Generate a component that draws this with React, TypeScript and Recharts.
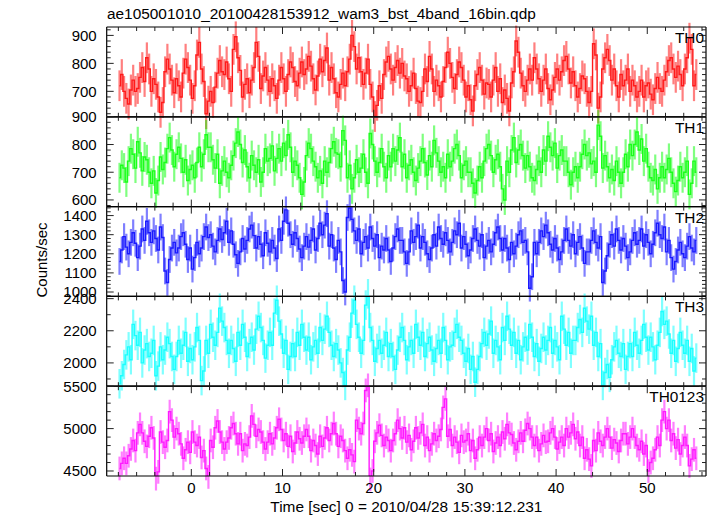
import React from 'react';
import { ComposedChart, Line, XAxis, YAxis, ErrorBar } from 'recharts';

const W = 717;
const H = 516;
const FONT = '"Liberation Sans", Arial, Helvetica, sans-serif';

// light curve binning (0.25 s bins)
const T_FIRST = -7.875;
const T_BIN = 0.25;

const TH0 = [
  720,760,700,675,655,705,740,700,710,750,785,735,820,780,700,745,725,680,625,660,
  770,815,780,740,695,745,720,680,765,815,785,740,675,720,830,875,780,735,620,665,
  700,660,715,765,810,770,760,805,745,700,850,895,820,775,680,725,745,695,740,785,
  875,825,710,755,785,740,700,745,720,675,740,785,745,700,760,805,785,735,720,765,
  805,760,780,825,790,745,705,755,815,770,810,855,740,785,745,695,680,725,765,720,
  770,815,900,860,780,820,770,725,765,815,725,680,610,650,720,675,760,805,825,780,
  740,785,810,765,800,755,745,700,720,765,710,665,660,700,780,735,825,780,700,740,
  720,680,735,785,840,800,750,710,760,805,785,740,680,720,670,630,720,760,785,740,
  690,730,725,680,740,785,700,745,660,705,675,630,730,770,880,840,765,720,700,740,
  780,740,820,780,745,700,740,780,710,670,705,750,780,740,770,810,825,780,730,770,
  720,680,710,755,745,700,660,700,870,830,640,680,780,820,850,810,740,780,720,680,
  760,720,740,780,700,740,720,680,700,740,680,720,730,690,670,710,750,710,700,740,
  770,810,820,780,750,790,760,720,780,820,890,850,720,760,
];

const TH1 = [
  680,725,715,665,740,785,765,715,810,770,705,755,745,700,660,705,625,670,755,710,
  735,785,825,780,720,765,790,750,700,745,670,710,725,680,735,790,720,765,835,790,
  790,745,715,765,660,705,740,700,680,725,760,805,845,800,735,780,720,680,760,725,
  700,745,665,700,785,740,750,795,705,750,785,740,805,760,835,790,700,740,725,680,
  620,665,760,805,785,740,720,680,705,660,740,700,735,785,810,770,765,720,850,815,
  680,725,640,680,745,700,715,765,700,660,840,800,740,700,735,785,720,680,760,720,
  785,740,780,825,720,765,680,725,745,700,670,715,740,785,735,690,760,720,815,770,
  740,700,720,680,765,720,740,785,800,760,680,725,740,700,700,660,625,670,720,680,
  740,785,800,760,700,745,765,720,640,600,740,700,780,825,735,780,800,760,715,760,
  720,680,670,710,740,700,780,740,830,790,760,805,715,760,780,740,740,700,655,700,
  720,680,720,765,800,760,770,730,740,700,870,830,715,760,720,680,710,670,740,700,
  660,700,765,720,800,760,800,845,780,820,740,785,720,680,670,710,640,680,720,680,
  710,750,700,660,630,670,720,680,700,740,620,660,740,700,
];

const TH2 = [
  1160,1220,1290,1235,1200,1260,1310,1255,1180,1240,1330,1270,1370,1310,1260,1320,1280,1220,1340,1285,
  1110,1050,1170,1230,1260,1205,1230,1290,1310,1250,1170,1230,1120,1180,1260,1200,1230,1290,1340,1285,
  1300,1240,1210,1270,1330,1275,1310,1370,1260,1320,1250,1195,1150,1210,1280,1225,1270,1330,1350,1295,
  1230,1290,1250,1190,1310,1255,1210,1270,1230,1175,1330,1270,1370,1430,1360,1300,1250,1310,1280,1225,
  1180,1240,1290,1235,1270,1330,1220,1280,1360,1300,1350,1410,1240,1300,1230,1170,1270,1210,1060,1000,
  1390,1440,1380,1320,1270,1330,1200,1260,1290,1230,1340,1280,1240,1300,1180,1240,1220,1280,1220,1160,
  1230,1290,1330,1270,1270,1210,1150,1210,1320,1260,1290,1350,1230,1290,1260,1200,1170,1230,1300,1240,
  1340,1280,1250,1310,1270,1210,1260,1320,1300,1360,1230,1290,1250,1190,1220,1280,1330,1270,1240,1300,
  1180,1240,1270,1210,1250,1310,1340,1280,1220,1280,1230,1170,1260,1200,1240,1300,1320,1260,1270,1210,
  1020,1080,1260,1200,1260,1320,1290,1350,1310,1250,1220,1280,1230,1170,1210,1270,1330,1270,1240,1300,
  1200,1260,1290,1230,1150,1210,1210,1270,1320,1260,1230,1290,1050,1110,1190,1250,1300,1240,1330,1270,
  1220,1280,1240,1180,1210,1270,1310,1250,1270,1330,1240,1300,1260,1200,1250,1310,1360,1300,1280,1340,
  1210,1270,1180,1120,1160,1220,1260,1200,1180,1240,1290,1230,1210,1270,
];

const TH3 = [
  1870,1920,1990,2050,2100,2020,2240,2170,2110,2190,2000,2080,2120,2040,2060,2140,1920,1980,2100,2020,
  2080,2160,2120,2040,1960,2040,2140,2060,2110,2190,2010,2090,2020,2100,2220,2140,1890,1950,2140,2060,
  2240,2160,2110,2190,2340,2260,2220,2140,2060,2140,2090,2010,2190,2110,2240,2160,2040,2120,2160,2080,
  2210,2290,2220,2140,2030,2110,2190,2110,2310,2390,2260,2180,2060,2140,1960,2040,2120,2040,2190,2110,
  2240,2160,2080,2160,2020,2100,2140,2060,2220,2140,2210,2290,2190,2110,2040,2120,2080,2000,1940,1860,
  2080,2160,2310,2390,2240,2160,2060,2140,2360,2430,2220,2140,2010,2090,2140,2060,2110,2190,2040,2120,
  2040,1960,2080,2160,2220,2140,2020,2100,2140,2060,2240,2160,2110,2190,2040,2120,2160,2080,2010,2090,
  2140,2060,2220,2140,2020,2100,2110,2190,2240,2160,2140,2060,2010,2090,1960,2040,1880,1960,2040,2120,
  2190,2110,2180,2260,2060,2140,2100,2020,2220,2140,2290,2210,2110,2190,2060,2140,2020,2100,2160,2080,
  2240,2160,2040,2120,2010,2090,2160,2080,2140,2220,2060,2140,2100,2020,2290,2210,2110,2190,2060,2140,
  2140,2220,2270,2190,2340,2260,2210,2290,2110,2190,2040,2120,1860,1940,1990,1910,2020,2100,2140,2060,
  2040,2120,1960,2040,2120,2040,2190,2110,2060,2140,2240,2160,2080,2160,2100,2020,2110,2190,2320,2240,
  2260,2180,2060,2140,2010,2090,2190,2110,2060,2140,2010,2090,1950,2030,
];

const TH0123 = [
  4530,4590,4650,4590,4680,4760,4860,4740,4950,5050,4950,4850,4790,4910,5010,4890,4410,4490,4960,4840,
  4780,4860,5200,5100,4900,5000,4940,4820,4650,4750,4840,4720,4960,4840,4800,4900,4660,4740,4530,4430,
  4860,4780,5010,5090,4960,4840,4760,4840,4890,5010,5060,4940,4820,4940,4740,4820,4800,4900,5150,5050,
  4910,4990,4960,4840,4760,4840,4940,4820,4890,5010,5110,4990,4860,4940,4790,4910,4730,4830,4960,4880,
  4830,4910,4990,4910,4740,4860,4800,4700,4910,4790,4890,5010,4860,4940,5060,4940,4790,4910,4860,4740,
  4650,4750,4690,4610,5100,5000,4940,5060,5450,5510,4400,4500,4850,4950,5040,4920,4800,4900,4860,4740,
  4860,4940,5100,5000,4890,5010,4840,4920,4750,4850,5010,4890,4950,5050,4800,4900,4740,4820,4940,4860,
  4910,4990,5250,5350,4910,4990,4800,4900,4840,4720,4920,4840,4860,4940,4740,4860,4650,4750,4900,4800,
  4900,5000,4860,4940,4730,4830,4900,4800,4960,4880,5050,4950,4930,4830,4750,4850,4950,4850,4980,5060,
  5000,4900,4800,4900,4740,4820,4920,4840,4850,4950,5000,4900,4760,4840,4900,4800,5000,4900,4950,5050,
  4880,4960,4800,4900,4650,4750,4640,4560,4860,4740,4950,4850,4800,4900,5000,4900,4770,4870,4830,4730,
  4860,4940,4940,4820,4900,5000,4900,4800,4750,4850,4700,4800,4500,4600,4650,4750,4900,4800,5100,5200,
  5000,5100,4860,4940,4770,4870,4700,4800,4900,4800,4560,4640,4750,4650,
];

const SERIES = [TH0, TH1, TH2, TH3, TH0123];
const PANEL_NAMES = ['TH0', 'TH1', 'TH2', 'TH3', 'TH0123'];
const ERRORS = [55, 54, 70, 92, 140];

const COLORS = ['#ff1a1a', '#1aff1a', '#1a1aff', '#1affff', '#ff1aff'];
const ERR_COLORS = [
  'rgba(255,0,0,0.5)',
  'rgba(0,255,0,0.5)',
  'rgba(0,0,255,0.5)',
  'rgba(0,255,255,0.5)',
  'rgba(255,0,255,0.5)',
];

const X_DOMAIN = [-9.28, 56.44];
const X_MAJOR = [0, 10, 20, 30, 40, 50];
const X_MINOR = [-8, -6, -4, -2, 0, 2, 4, 6, 8, 10, 12, 14, 16, 18, 20, 22, 24, 26, 28, 30, 32, 34, 36, 38, 40, 42, 44, 46, 48, 50, 52, 54, 56];

const Y_DOMAINS = [
  [609, 930],
  [576, 900],
  [977, 1447],
  [1855, 2414],
  [4441, 5500],
];
const Y_MAJOR = [
  [700, 800, 900],
  [600, 700, 800, 900],
  [1000, 1100, 1200, 1300, 1400],
  [2000, 2200, 2400],
  [4500, 5000, 5500],
];
const Y_MINOR = [
  [620, 640, 660, 680, 700, 720, 740, 760, 780, 800, 820, 840, 860, 880, 900, 920],
  [580, 600, 620, 640, 660, 680, 700, 720, 740, 760, 780, 800, 820, 840, 860, 880, 900],
  [980, 1000, 1020, 1040, 1060, 1080, 1100, 1120, 1140, 1160, 1180, 1200, 1220, 1240, 1260, 1280, 1300, 1320, 1340, 1360, 1380, 1400, 1420, 1440],
  [1900, 2000, 2100, 2200, 2300, 2400],
  [4500, 4600, 4700, 4800, 4900, 5000, 5100, 5200, 5300, 5400, 5500],
];

const PLOT_LEFT = 106.7;
const PLOT_RIGHT = 706;
const PANEL_TOPS = [27, 116.8, 206.6, 296.4, 386.2];
const PLOT_BOTTOM = 476;

const FRAME = { stroke: '#000', strokeWidth: 1.2 };
const TICK_COLOR = '#222';

function mergeTicks(a: number[], b: number[]) {
  return Array.from(new Set([...a, ...b])).sort((p, q) => p - q);
}

function makeYTick(major: number[], side: 'left' | 'right') {
  return (props: any) => {
    const { x, y, payload } = props;
    const isMajor = major.indexOf(payload.value) >= 0;
    const len = isMajor ? 7 : 4;
    const dir = side === 'left' ? 1 : -1;
    return (
      <g>
        <line x1={x} y1={y} x2={x + dir * len} y2={y} stroke={TICK_COLOR} strokeWidth={1} />
        {side === 'left' && isMajor ? (
          <text x={x - 10} y={y + 5.4} textAnchor="end" fontFamily={FONT} fontSize={15} fill="#000">
            {payload.value}
          </text>
        ) : null}
      </g>
    );
  };
}

function makeXTick(side: 'top' | 'bottom', labels: boolean) {
  return (props: any) => {
    const { x, y, payload } = props;
    const isMajor = X_MAJOR.indexOf(payload.value) >= 0;
    const len = isMajor ? 7 : 4;
    const dir = side === 'top' ? 1 : -1;
    return (
      <g>
        <line x1={x} y1={y} x2={x} y2={y + dir * len} stroke={TICK_COLOR} strokeWidth={1} />
        {labels && isMajor ? (
          <text x={x} y={y + 17.3} textAnchor="middle" fontFamily={FONT} fontSize={15} fill="#000">
            {payload.value}
          </text>
        ) : null}
      </g>
    );
  };
}

function Panel({ index }: { index: number }) {
  const values = SERIES[index];
  const data = values.map((v, k) => ({ t: T_FIRST + T_BIN * k, v, e: ERRORS[index] }));
  const top = PANEL_TOPS[index];
  const bottom = index < PANEL_TOPS.length - 1 ? PANEL_TOPS[index + 1] : PLOT_BOTTOM;
  const yTicks = mergeTicks(Y_MINOR[index], Y_MAJOR[index]);
  const xTicks = mergeTicks(X_MINOR, X_MAJOR);
  return (
    <div style={{ position: 'absolute', left: 0, top: 0 }}>
      <ComposedChart
        width={W}
        height={H}
        data={data}
        margin={{ top, bottom: H - bottom, left: PLOT_LEFT, right: W - PLOT_RIGHT }}
      >
        <XAxis
          xAxisId="b"
          dataKey="t"
          type="number"
          domain={X_DOMAIN}
          allowDataOverflow
          ticks={xTicks}
          interval={0}
          orientation="bottom"
          mirror
          tickSize={0}
          tickMargin={0}
          tickLine={false}
          axisLine={FRAME}
          tick={makeXTick('bottom', index === SERIES.length - 1)}
        />
        <XAxis
          xAxisId="t"
          dataKey="t"
          type="number"
          domain={X_DOMAIN}
          allowDataOverflow
          ticks={xTicks}
          interval={0}
          orientation="top"
          mirror
          tickSize={0}
          tickMargin={0}
          tickLine={false}
          axisLine={FRAME}
          tick={makeXTick('top', false)}
        />
        <YAxis
          yAxisId="l"
          type="number"
          domain={Y_DOMAINS[index]}
          allowDataOverflow
          ticks={yTicks}
          interval={0}
          orientation="left"
          mirror
          tickSize={0}
          tickMargin={0}
          tickLine={false}
          axisLine={FRAME}
          tick={makeYTick(Y_MAJOR[index], 'left')}
        />
        <YAxis
          yAxisId="r"
          type="number"
          domain={Y_DOMAINS[index]}
          allowDataOverflow
          ticks={yTicks}
          interval={0}
          orientation="right"
          mirror
          tickSize={0}
          tickMargin={0}
          tickLine={false}
          axisLine={FRAME}
          tick={makeYTick(Y_MAJOR[index], 'right')}
        />
        <Line
          xAxisId="b"
          yAxisId="l"
          dataKey="v"
          type="step"
          stroke={COLORS[index]}
          strokeWidth={1.4}
          dot={false}
          activeDot={false}
          isAnimationActive={false}
        >
          <ErrorBar
            dataKey="e"
            width={0}
            stroke={ERR_COLORS[index]}
            strokeWidth={2.2}
            isAnimationActive={false}
          />
        </Line>
      </ComposedChart>
    </div>
  );
}

export default function App() {
  return (
    <div style={{ position: 'absolute', left: 0, top: 0, width: W, height: H, background: '#fff', overflow: 'hidden' }}>
      {SERIES.map((_, i) => (
        <Panel key={i} index={i} />
      ))}
      <svg width={W} height={H} style={{ position: 'absolute', left: 0, top: 0, pointerEvents: 'none' }}>
        <text x={107} y={19} fontFamily={FONT} fontSize={15.4} fill="#000">
          ae105001010_20100428153912_wam3_bst_4band_16bin.qdp
        </text>
        {PANEL_NAMES.map((name, i) => (
          <text key={name} x={704} y={PANEL_TOPS[i] + 16} textAnchor="end" fontFamily={FONT} fontSize={15.4} fill="#000">
            {name}
          </text>
        ))}
        <text
          transform="translate(46.5,260) rotate(-90)"
          textAnchor="middle"
          fontFamily={FONT}
          fontSize={15}
          fill="#000"
        >
          Counts/sec
        </text>
        <text x={(PLOT_LEFT + PLOT_RIGHT) / 2} y={512} textAnchor="middle" fontFamily={FONT} fontSize={15.4} fill="#000">
          Time [sec] 0 = 2010/04/28 15:39:12.231
        </text>
      </svg>
    </div>
  );
}
